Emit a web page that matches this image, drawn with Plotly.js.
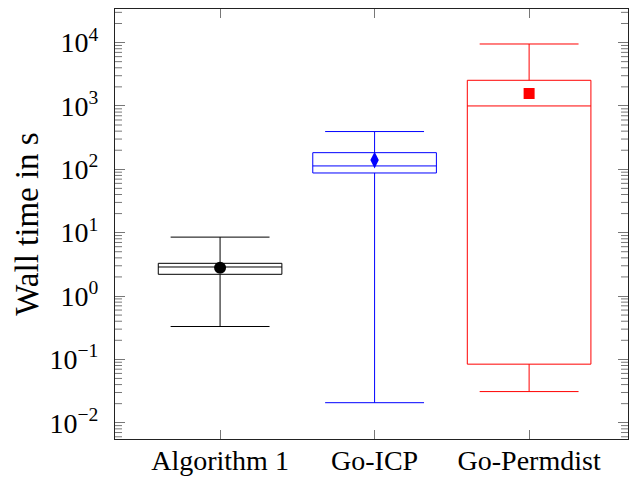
<!DOCTYPE html>
<html>
<head>
<meta charset="utf-8">
<script src="https://cdn.plot.ly/plotly-3.0.1.min.js"></script>
<style>html,body{margin:0;padding:0;background:#fff;}#chart{width:629px;height:477px;}</style>
</head>
<body>
<div id="chart"></div>
<script>
const categories = ['Algorithm 1', 'Go-ICP', 'Go-Permdist'];
const lowerWhisker = [0.33, 0.0207, 0.031];
const q1Values = [2.2, 87.5, 0.084];
const medianValues = [2.87, 113, 1000];
const q3Values = [3.28, 183, 2540];
const upperWhisker = [8.5, 394, 9500];
const meanValues = [2.8, 140, 1570];
const yTickValues = [0.01, 0.1, 1, 10, 100, 1000, 10000];
const yTickLabels = ['10<sup>\u22122</sup>', '10<sup>\u22121</sup>', '10<sup>0</sup>', '10<sup>1</sup>', '10<sup>2</sup>', '10<sup>3</sup>', '10<sup>4</sup>'];
const yMinorTickValues = [
  0.006, 0.007, 0.008, 0.009,
  0.02, 0.03, 0.04, 0.05, 0.06, 0.07, 0.08, 0.09,
  0.2, 0.3, 0.4, 0.5, 0.6, 0.7, 0.8, 0.9,
  2, 3, 4, 5, 6, 7, 8, 9,
  20, 30, 40, 50, 60, 70, 80, 90,
  200, 300, 400, 500, 600, 700, 800, 900,
  2000, 3000, 4000, 5000, 6000, 7000, 8000, 9000,
  20000, 30000
];
const colors = ['#000000', '#0000ff', '#ff0000'];
const meanSymbols = ['circle', 'diamond-tall', 'square'];
const meanSizes = [12, 12, 11];

const FONT = 'Liberation Serif, Times New Roman, serif';
const Y_RANGE = [-2.257, 4.53];
const PLOT_W = 629 - 115 - 1;
const MINOR_LEN = 7 / PLOT_W;
const TICK_COLOR = '#777';

const traces = [];
categories.forEach((c, i) => {
  traces.push({
    type: 'box',
    x: [c],
    q1: [q1Values[i]],
    median: [medianValues[i]],
    q3: [q3Values[i]],
    lowerfence: [lowerWhisker[i]],
    upperfence: [upperWhisker[i]],
    width: 0.8,
    whiskerwidth: 0.8,
    boxpoints: false,
    fillcolor: 'rgba(0,0,0,0)',
    line: {color: colors[i], width: 1},
    showlegend: false,
    hoverinfo: 'skip'
  });
});
categories.forEach((c, i) => {
  traces.push({
    type: 'scatter',
    mode: 'markers',
    x: [c],
    y: [meanValues[i]],
    marker: {symbol: meanSymbols[i], size: meanSizes[i], color: colors[i], line: {width: 0}},
    showlegend: false,
    hoverinfo: 'skip'
  });
});

// minor ticks on the log axis (left and mirrored right), placed through the y scale
const minorShapes = [];
yMinorTickValues.forEach(v => {
  [[0, MINOR_LEN], [1 - MINOR_LEN, 1]].forEach(([a, b]) => {
    minorShapes.push({
      type: 'line', xref: 'paper', yref: 'y', x0: a, x1: b, y0: v, y1: v,
      line: {color: TICK_COLOR, width: 1}, layer: 'above'
    });
  });
});

const layout = {
  width: 629,
  height: 477,
  margin: {l: 115, r: 1, t: 9, b: 38},
  paper_bgcolor: '#fff',
  plot_bgcolor: '#fff',
  boxmode: 'overlay',
  font: {family: FONT, color: '#000', size: 28},
  shapes: minorShapes,
  xaxis: {
    type: 'category',
    range: [-0.68, 2.64],
    showgrid: false,
    zeroline: false,
    showline: true,
    linecolor: '#222',
    linewidth: 1,
    mirror: 'allticks',
    ticks: 'inside',
    ticklen: 9,
    tickcolor: TICK_COLOR,
    tickfont: {family: FONT, size: 28, color: '#000'},
    ticklabelstandoff: -4
  },
  yaxis: {
    type: 'log',
    range: Y_RANGE,
    tickmode: 'array',
    tickvals: yTickValues,
    ticktext: yTickLabels,
    showgrid: false,
    zeroline: false,
    showline: true,
    linecolor: '#222',
    linewidth: 1,
    mirror: 'allticks',
    ticks: 'inside',
    ticklen: 10,
    tickcolor: TICK_COLOR,
    tickfont: {family: FONT, size: 28, color: '#000'},
    ticklabelstandoff: 10,
    title: {text: 'Wall time in s', font: {family: FONT, size: 33, color: '#000'}, standoff: 0}
  }
};

Plotly.newPlot('chart', traces, layout, {staticPlot: true, displayModeBar: false});
</script>
</body>
</html>
